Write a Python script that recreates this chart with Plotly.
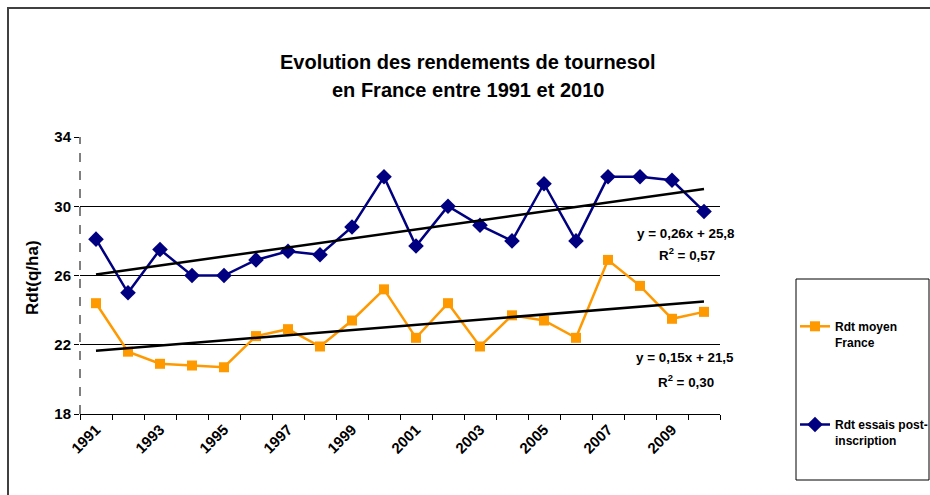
import plotly.graph_objects as go

years = list(range(1991, 2011))
rdt_france = [24.4, 21.6, 20.9, 20.8, 20.7, 22.5, 22.9, 21.9, 23.4, 25.2,
              22.4, 24.4, 21.9, 23.7, 23.4, 22.4, 26.9, 25.4, 23.5, 23.9]
rdt_essais = [28.1, 25.0, 27.5, 26.0, 26.0, 26.9, 27.4, 27.2, 28.8, 31.7,
              27.7, 30.0, 28.9, 28.0, 31.3, 28.0, 31.7, 31.7, 31.5, 29.7]
trend_france = (0.15, 21.5)   # slope, intercept (x = 1..20)
trend_essais = (0.26, 25.8)
x_tick_labels = [str(y) for y in range(1991, 2011, 2)]
y_ticks = [18, 22, 26, 30, 34]

FONT = "Arial, Liberation Sans, sans-serif"
idx = list(range(1, len(years) + 1))

# body margin removed by post_script: figure drawn from (0, 0)
L, T, PW, PH = 80, 137, 640, 277
W, H = 930, 495


def px(xp):  # page x -> paper x
    return (xp - L) / PW


def py(yp):  # page y -> paper y
    return (T + PH - yp) / PH


fig = go.Figure()
fig.add_trace(go.Scatter(
    x=years, y=rdt_france, name="<b>Rdt moyen<br>France</b>", mode="lines+markers",
    line=dict(color="#FF9900", width=2.5),
    marker=dict(symbol="square", size=10, color="#FF9900"),
    legendgroup="a"))
fig.add_trace(go.Scatter(
    x=years, y=rdt_essais, name="<b>Rdt essais post-<br>inscription</b>", mode="lines+markers",
    line=dict(color="#000080", width=2.5),
    marker=dict(symbol="diamond", size=12, color="#000080"),
    legendgroup="b"))
fig.add_trace(go.Scatter(
    x=years, y=[trend_essais[0] * i + trend_essais[1] for i in idx], mode="lines",
    line=dict(color="black", width=2.5), showlegend=False, hoverinfo="skip"))
fig.add_trace(go.Scatter(
    x=years, y=[trend_france[0] * i + trend_france[1] for i in idx], mode="lines",
    line=dict(color="black", width=2.5), showlegend=False, hoverinfo="skip"))

C = dict(xanchor="center", yanchor="middle", showarrow=False)
ann = [
    dict(text="<b>Evolution des rendements de tournesol</b>", x=px(468), y=py(62),
         xref="paper", yref="paper", font=dict(size=20), **C),
    dict(text="<b>en France entre 1991 et 2010</b>", x=px(468), y=py(90),
         xref="paper", yref="paper", font=dict(size=20), **C),
    dict(text="<b>Rdt(q/ha)</b>", x=px(32), y=py(278), xref="paper", yref="paper",
         textangle=-90, font=dict(size=17), **C),
    dict(text="<b>y = 0,26x + 25,8</b>", x=px(686), y=py(233), xref="paper", yref="paper",
         font=dict(size=13.4), **C),
    dict(text="<b>R<sup>2</sup> = 0,57</b>", x=px(687), y=py(254), xref="paper", yref="paper",
         font=dict(size=13.4), **C),
    dict(text="<b>y = 0,15x + 21,5</b>", x=px(684.5), y=py(357), xref="paper", yref="paper",
         font=dict(size=13.4), **C),
    dict(text="<b>R<sup>2</sup> = 0,30</b>", x=px(685.5), y=py(381), xref="paper", yref="paper",
         font=dict(size=13.4), **C),
]

shapes = [
    dict(type="line", xref="paper", yref="paper", x0=0, x1=0, y0=0, y1=1,
         line=dict(color="black", width=1, dash="dash")),
    dict(type="rect", xref="paper", yref="paper", x0=px(796), x1=px(929),
         y0=py(480), y1=py(279), line=dict(color="black", width=1)),
    dict(type="rect", xref="paper", yref="paper", x0=px(8), x1=2.0,
         y0=-1.0, y1=py(8), line=dict(color="#404040", width=2)),
]

fig.update_layout(
    width=W, height=H,
    margin=dict(l=L, r=W - L - PW, t=T, b=H - T - PH, autoexpand=False),
    paper_bgcolor="white", plot_bgcolor="white",
    font=dict(family=FONT, color="black", size=12),
    showlegend=True,
    legend=dict(x=px(795), xanchor="left", y=py(312), yanchor="top",
                bgcolor="rgba(0,0,0,0)", borderwidth=0, tracegroupgap=64,
                font=dict(size=12), itemwidth=30, valign="top"),
    annotations=ann, shapes=shapes,
    xaxis=dict(range=[1990.5, 2010.5], tickmode="array", automargin=False,
               tickvals=list(range(1991, 2011, 2)), ticktext=[f"<b>{t}</b>" for t in x_tick_labels],
               tickangle=-45, ticks="", showgrid=False, zeroline=False,
               showline=True, linecolor="black", linewidth=1,
               tickfont=dict(size=15),
               minor=dict(tickmode="array", tickvals=[1990.5 + k for k in range(21)],
                          ticks="outside", ticklen=5, tickcolor="black", showgrid=False)),
    yaxis=dict(range=[18, 34], tickmode="array", tickvals=y_ticks, automargin=False,
               ticktext=[f"<b>{v}</b>" for v in y_ticks], ticks="outside", ticklen=5,
               tickcolor="black", showgrid=True, gridcolor="black", gridwidth=1,
               zeroline=False, showline=False, tickfont=dict(size=15)),
)

fig.write_html("out.html", config={"displayModeBar": False},
               post_script="document.body.style.margin='0px';document.body.style.overflow='hidden';")
